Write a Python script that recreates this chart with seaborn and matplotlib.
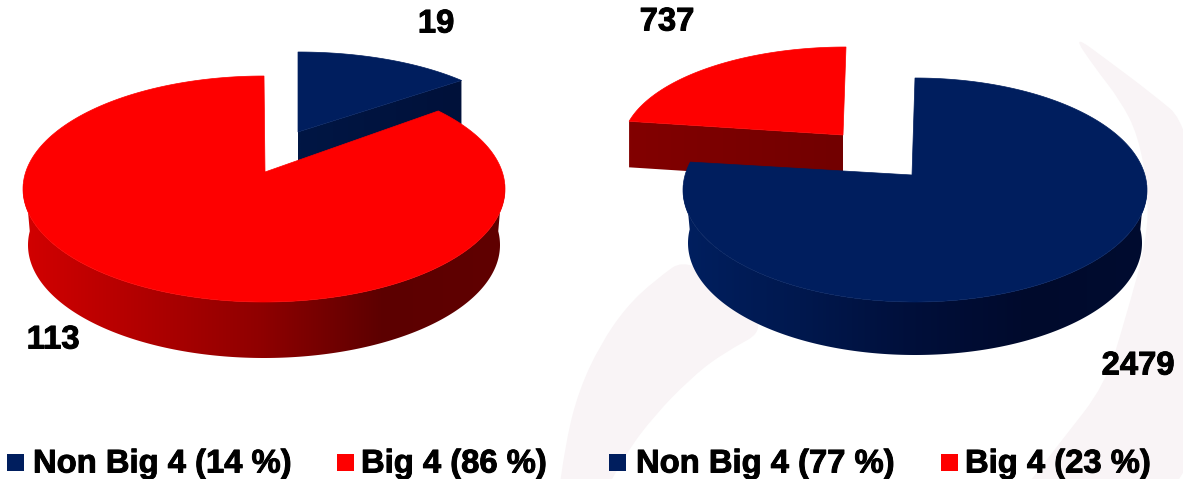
import numpy as np
import matplotlib
matplotlib.use("Agg")
import matplotlib.pyplot as plt
import matplotlib.patheffects as pe
import seaborn as sns
from matplotlib.patches import PathPatch, Polygon, Rectangle
from matplotlib.path import Path

# values
left_values = [19, 113]
right_values = [2479, 737]
left_labels = ["Non Big 4 (14 %)", "Big 4 (86 %)"]
right_labels = ["Non Big 4 (77 %)", "Big 4 (23 %)"]

NAVY = "#001e5e"
RED = "#fe0000"
BACK = "#f9f4f6"

sns.set_theme(style="white")
plt.rcParams["font.family"] = ["Liberation Sans", "DejaVu Sans"]

# wall shading, left to right
red_wall = sns.blend_palette(["#d20000", "#b00000", "#8e0000", "#5c0000", "#600000"], 128)
navy_wall = sns.blend_palette(["#001f5f", "#00184e", "#000f3a", "#000a2c", "#000c30"], 128)


def warp(theta):
    # pie angle from 12 o'clock -> drawn angle, chart perspective squeezes the far side
    return theta - 7 * np.sin(np.radians(theta))


def rim(shape, th0, th1, n=200):
    cx, cy, rx, ry = shape
    t = np.radians(90 - warp(np.linspace(th0, th1, n)))
    return np.column_stack([cx + rx * np.cos(t), cy - ry * np.sin(t)])


def shade(ax, outline, palette, x0, x1, y0, y1, z):
    # horizontal gradient clipped to the outline, so no seams between strips
    grad = np.array(palette)[np.newaxis, :, :]
    im = ax.imshow(grad, extent=(x0, x1, y1, y0), aspect="auto", interpolation="bilinear", zorder=z)
    clip = Polygon(outline, closed=True, transform=ax.transData, facecolor="none", edgecolor="none")
    ax.add_patch(clip)
    im.set_clip_path(clip)


def draw_wall(ax, shape, depth, palette, z, shrink=5):
    cx, cy, rx, ry = shape
    top = rim(shape, 90, 270)
    bot = rim((cx, cy + depth, rx - shrink, ry), 90, 270)
    outline = np.vstack([top, bot[::-1]])
    shade(ax, outline, palette, cx - rx, cx + rx, cy - 5, cy + depth + ry + 5, z)


def draw_cut(ax, a, b, depth, col_a, col_b, z):
    # flat inner face between points a and b, a is the left one
    a, b = np.array(a), np.array(b)
    outline = np.array([a, b, b + [0, depth], a + [0, depth]])
    shade(ax, outline, sns.blend_palette([col_a, col_b], 32), a[0], b[0],
          min(a[1], b[1]) - 1, max(a[1], b[1]) + depth + 1, z)


def draw_face(ax, hub, shape, th0, th1, color, z):
    pts = np.vstack([[hub], rim(shape, th0, th1)])
    ax.add_patch(Polygon(pts, closed=True, facecolor=color, edgecolor=color, linewidth=0.5, zorder=z))


def smooth_outline(points):
    # closed quadratic spline, control points sit between the curve joins
    pts = np.array(points, dtype=float)
    mids = (pts + np.roll(pts, -1, axis=0)) / 2
    verts = [mids[-1]]
    codes = [Path.MOVETO]
    for p, m in zip(pts, mids):
        verts += [p, m]
        codes += [Path.CURVE3, Path.CURVE3]
    return Path(verts, codes)


fig = plt.figure(figsize=(11.83, 4.79), dpi=100)
ax = fig.add_axes([0, 0, 1, 1])
ax.axis("off")

# faint swoosh behind the right pie
swoosh_right = [(1072, 34), (1110, 62), (1150, 92), (1190, 125), (1210, 300), (1190, 520), (1000, 520),
                (1062, 440), (1105, 385), (1125, 320), (1147, 240), (1148, 190), (1138, 135),
                (1120, 100), (1095, 68)]
swoosh_left = [(555, 520), (566, 440), (579, 390), (600, 345), (626, 307), (655, 280), (690, 255),
               (775, 325), (720, 355), (689, 380), (655, 415), (626, 453), (590, 520)]
for outline in (swoosh_right, swoosh_left):
    ax.add_patch(PathPatch(smooth_outline(outline), facecolor=BACK, edgecolor="none", zorder=0))

# left pie: small slice pulled out, the big one overlaps it
th = 360 * left_values[0] / sum(left_values)
small = (298, 144, 226, 92)
corner = rim(small, th, th, 1)[0]
draw_cut(ax, (298, 132), corner, 56, "#001644", "#00113a", 1)
draw_face(ax, (298, 132), small, 0, th, NAVY, 2)
big = (264, 189, 241, 113)
draw_wall(ax, big, 56, red_wall, 3)
draw_face(ax, (265, 172), big, th, 360, RED, 4)

# right pie: small slice sits behind
th = 360 * right_values[1] / sum(right_values)
small = (846, 146, 224, 99)
corner = rim(small, -th, -th, 1)[0]
draw_cut(ax, corner, (843, 135), 46, "#820000", "#720000", 1)
draw_face(ax, (843, 135), small, -th, 0, RED, 2)
big = (915, 190, 232, 112)
draw_wall(ax, big, 53, navy_wall, 3)
draw_face(ax, (912, 175), big, 0, 360 - th, NAVY, 4)

# imshow resets the limits
ax.set_xlim(0, 1183)
ax.set_ylim(479, 0)

# value labels
heavy = [pe.withStroke(linewidth=0.7, foreground="black")]
label_kw = dict(fontsize=23.6, fontweight="bold", color="black", ha="center", va="center",
                path_effects=heavy, zorder=5)
ax.text(436, 24, str(left_values[0]), **label_kw)
ax.text(53, 340, str(left_values[1]), **label_kw)
ax.text(1138, 366, str(right_values[0]), **label_kw)
ax.text(667, 22, str(right_values[1]), **label_kw)

# legend row
legend_items = [(7, 33, NAVY, left_labels[0]), (337, 361, RED, left_labels[1]),
                (609, 636, NAVY, right_labels[0]), (941, 965, RED, right_labels[1])]
for box_x, text_x, col, txt in legend_items:
    ax.add_patch(Rectangle((box_x, 454), 17, 17, facecolor=col, edgecolor="none", zorder=5))
    ax.text(text_x, 464, txt, fontsize=23.6, fontweight="bold", color="black", ha="left", va="center",
            path_effects=heavy, zorder=5)

fig.savefig("out.png", dpi=100)
